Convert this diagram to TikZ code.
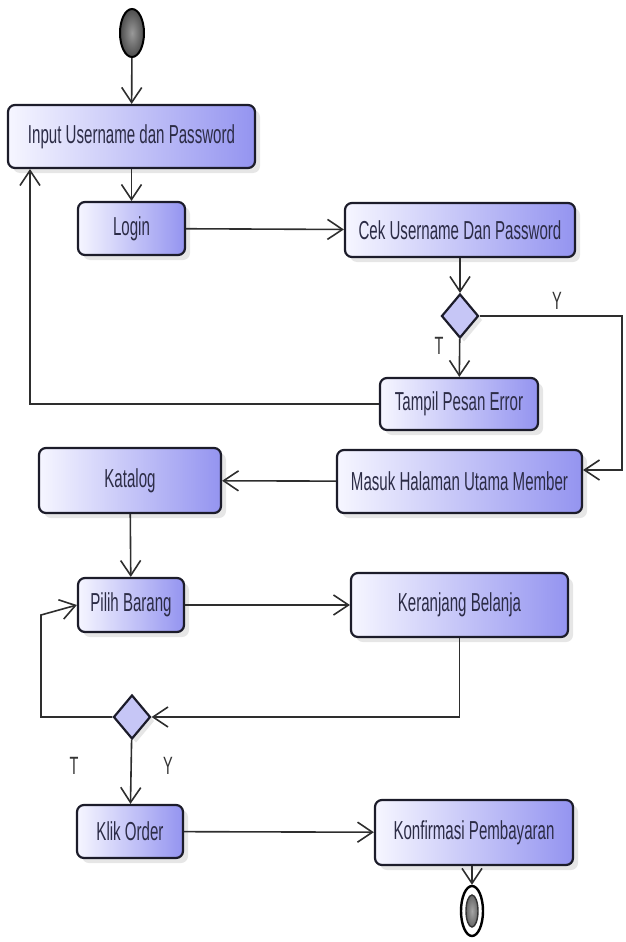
\documentclass[tikz,border=0pt]{standalone}
\usepackage{fontspec}
\newfontfamily\umlfont[FakeStretch=0.58]{Liberation Sans}
\usetikzlibrary{shapes.geometric, arrows.meta, shadows}

\definecolor{actlight}{HTML}{F6F6FF}
\definecolor{actfill}{HTML}{9494F0}
\definecolor{actborder}{HTML}{1C1C2A}
\definecolor{acttext}{HTML}{2C2C46}
\definecolor{decfill}{HTML}{C6C6F6}
\definecolor{lineclr}{HTML}{2E2E2E}

\begin{document}
\begin{tikzpicture}[
        x=1pt, y=-1pt,
        act/.style={rectangle, rounded corners=7pt, draw=actborder, line width=2.2pt,
            left color=actlight, right color=actfill, text=acttext, inner sep=0pt,
            font=\umlfont\fontsize{26}{28}\selectfont,
            drop shadow={opacity=0.2, shadow xshift=5pt, shadow yshift=-5pt}},
        dec/.style={diamond, draw=actborder, line width=2.2pt, fill=decfill, inner sep=0pt,
            minimum width=37pt, minimum height=44pt,
            drop shadow={opacity=0.2, shadow xshift=4pt, shadow yshift=-4pt}},
        startnode/.style={ellipse, draw=black, line width=2pt, inner sep=0pt,
            minimum width=24pt, minimum height=48pt, inner color=black!40, outer color=black!70},
        endout/.style={ellipse, draw=black, line width=2.4pt, fill=white, inner sep=0pt,
            minimum width=22pt, minimum height=50pt},
        endin/.style={ellipse, draw=black!80, line width=1.4pt, inner color=black!35, outer color=black!60,
            inner sep=0pt, minimum width=12pt, minimum height=32pt},
        guard/.style={text=black!80, font=\umlfont\fontsize{25}{27}\selectfont},
        flow/.style={draw=lineclr, line width=1.6pt, -{Straight Barb[length=15pt, width=20pt]}}
    ]
        \useasboundingbox (0,0) rectangle (625,942);

        % Các nút hoạt động
        \node[startnode] (start) at (132,33) {};
        \node[act, minimum width=247pt, minimum height=63pt] (input) at (131.5,136.5) {Input Username dan Password};
        \node[act, minimum width=107pt, minimum height=53pt] (login) at (131.5,228.5) {Login};
        \node[act, minimum width=230pt, minimum height=54pt] (cek) at (460,230) {Cek Username Dan Password};
        \node[dec] (dec1) at (460,316) {};
        \node[act, minimum width=158pt, minimum height=52pt] (error) at (459,404) {Tampil Pesan Error};
        \node[act, minimum width=245pt, minimum height=63pt] (masuk) at (459.5,481.5) {Masuk Halaman Utama Member};
        \node[act, minimum width=182pt, minimum height=65pt] (katalog) at (130,480.5) {Katalog};
        \node[act, minimum width=106pt, minimum height=54pt] (pilih) at (131,605) {Pilih Barang};
        \node[act, minimum width=217pt, minimum height=64pt] (keranjang) at (459.5,605) {Keranjang Belanja};
        \node[dec] (dec2) at (132,717) {};
        \node[act, minimum width=106pt, minimum height=53pt] (klik) at (130,831.5) {Klik Order};
        \node[act, minimum width=198pt, minimum height=65pt] (konfirmasi) at (474,832.5) {Konfirmasi Pembayaran};
        \node[endout] (end) at (472,911) {};
        \node[endin] (endc) at (472,911) {};

        % Nhãn điều kiện
        \node[guard] (t1) at (439,346) {T};
        \node[guard] (y1) at (557,301) {Y};
        \node[guard] (t2) at (74,766) {T};
        \node[guard] (y2) at (168,766) {Y};

        % Điểm gấp của đường nối
        \coordinate (yA) at (622,316);
        \coordinate (yB) at (622,470);
        \coordinate (eA) at (30,404);
        \coordinate (lA) at (41,615);

        % Các mũi tên
        \draw[flow] (start) -- (input);
        \draw[flow] (input) -- (login);
        \draw[flow] (login) -- (cek);
        \draw[flow] (cek) -- (dec1);
        \draw[flow] (dec1) -- (error);
        \draw[flow] (dec1.east) -- (yA) -- (yB) -- (yB -| masuk.east);
        \draw[flow] (error.west) -- (eA) -- (eA |- input.south);
        \draw[flow] (masuk) -- (katalog);
        \draw[flow] (katalog) -- (pilih);
        \draw[flow] (pilih) -- (keranjang);
        \draw[flow] (keranjang.south) |- (dec2.east);
        \draw[flow] (dec2.west) -- (dec2.west -| lA) -- (lA) -- (pilih.west);
        \draw[flow] (dec2) -- (klik);
        \draw[flow] (klik) -- (konfirmasi);
        \draw[flow] (konfirmasi.south -| end.north) -- (end);
    \end{tikzpicture}
\end{document}
